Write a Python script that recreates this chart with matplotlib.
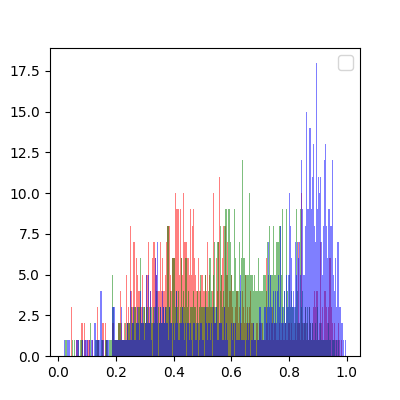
import matplotlib
matplotlib.use('Agg')
import matplotlib.pyplot as plt
import numpy as np

# counts per bin
red_counts = [
    0,0,0,0,0,0,0,3,0,0, 0,0,1,1,0,0,0,2,2,0,
    2,1,0,1,1,1,0,0,1,0, 0,0,0,3,1,0,0,0,2,2,
    0,2,1,0,0,0,0,0,2,2, 1,1,1,1,2,2,4,2,1,1,
    2,1,5,2,3,2,8,4,3,7, 7,3,6,5,4,4,3,3,5,2,
    3,2,5,5,7,3,4,2,6,7, 7,6,5,4,4,4,7,4,6,4,
    4,5,7,8,8,8,5,4,6,6, 6,10,9,9,9,5,9,6,5,10,
    7,7,7,6,6,5,9,5,8,9, 6,5,4,4,6,4,4,5,5,4,
    4,5,4,7,3,5,3,3,4,10, 3,2,6,4,7,11,4,5,6,8,
    3,8,5,7,3,4,4,5,3,2, 2,3,4,4,2,3,2,2,4,3,
    2,5,2,3,2,3,4,2,2,2, 1,1,2,2,1,2,2,1,2,1,
    1,1,6,2,1,2,1,2,3,1, 2,2,1,1,1,2,1,1,2,1,
    1,2,1,1,2,2,1,2,1,1, 1,2,1,2,7,2,1,10,2,1,
    2,3,1,2,1,3,2,1,2,3, 4,3,4,4,1,2,7,2,3,1,
    4,4,3,2,3,6,6,3,2,1, 2,1,1,1,2,1,0,1,0,0, 0,0,
]
green_counts = [
    0,1,1,0,0,0,0,0,1,0, 1,0,0,0,1,0,1,1,1,0,
    0,0,0,0,0,0,2,0,0,0, 0,1,1,1,1,0,0,1,1,0,
    0,1,1,1,0,1,1,1,5,3, 1,1,1,1,2,2,2,1,1,1,
    1,2,1,2,2,2,1,3,2,2, 3,3,2,2,3,3,6,2,2,3,
    3,2,3,3,2,2,3,3,2,3, 2,3,4,2,3,2,3,2,2,3,
    2,3,3,8,8,3,4,2,6,6, 6,3,4,3,4,2,3,6,3,4,
    3,6,6,3,4,2,3,3,3,4, 3,3,2,4,2,3,5,3,3,3,
    3,5,3,3,4,6,6,4,3,5, 7,3,3,7,7,2,8,5,3,4,
    8,9,9,5,9,9,7,5,4,4, 9,6,4,4,4,7,4,6,12,6,
    6,5,5,5,5,10,5,5,5,4, 5,4,4,4,6,4,4,4,4,5,
    5,5,4,7,5,8,5,5,5,8, 5,5,7,7,7,8,8,5,9,3,
    4,2,9,4,3,5,3,4,3,3, 2,3,9,4,2,2,9,3,4,2,
    2,3,2,3,1,3,2,1,2,1, 1,2,1,3,1,1,2,1,1,1,
    1,1,1,1,2,1,1,0,1,1, 1,0,1,0,1,0,0,0,0,0, 0,0,
]
blue_counts = [
    1,0,0,1,1,1,0,0,0,0, 0,0,1,1,1,0,0,0,1,0,
    1,1,1,1,0,1,0,1,1,0, 2,2,1,1,1,1,4,4,1,1,
    0,0,1,1,1,0,0,0,3,3, 3,1,1,1,1,1,1,3,1,1,
    1,1,1,2,1,1,4,1,2,3, 1,1,2,3,2,1,4,2,3,2,
    1,2,5,2,5,2,4,1,0,2, 3,6,5,7,0,2,3,2,4,3,
    2,3,2,2,1,3,2,2,0,2, 1,2,4,2,1,1,2,2,3,2,
    1,2,0,2,2,1,2,1,0,2, 2,1,1,2,0,1,2,2,1,1,
    0,3,2,1,2,2,1,2,0,3, 2,2,3,1,1,2,2,2,1,1,
    3,1,2,1,0,0,0,2,1,2, 0,2,1,1,1,1,5,1,1,1,
    1,0,1,2,1,2,0,1,1,2, 1,1,0,1,1,3,3,2,1,1,
    3,3,2,3,7,3,5,3,2,4, 2,4,2,4,5,3,8,2,3,2,
    4,2,5,3,5,10,8,6,3,4, 3,7,5,7,6,7,5,12,9,5,
    5,8,15,9,9,14,14,9,11,13, 8,7,18,9,11,10,11,7,5,8,
    12,13,8,6,9,9,8,8,12,5, 4,6,3,7,7,3,3,2,2,1, 0,1,
]
bin_start = 0.02
bin_stop = 0.997

edges = np.linspace(bin_start, bin_stop, len(blue_counts) + 1)
centers = (edges[:-1] + edges[1:]) / 2

fig, ax = plt.subplots(figsize=(4, 4), dpi=100)
ax.hist(centers, bins=edges, weights=red_counts, color='r', alpha=0.5)
ax.hist(centers, bins=edges, weights=green_counts, color='g', alpha=0.5)
ax.hist(centers, bins=edges, weights=blue_counts, color='b', alpha=0.5)
ax.legend(borderpad=0.55)

fig.savefig('out.png')
